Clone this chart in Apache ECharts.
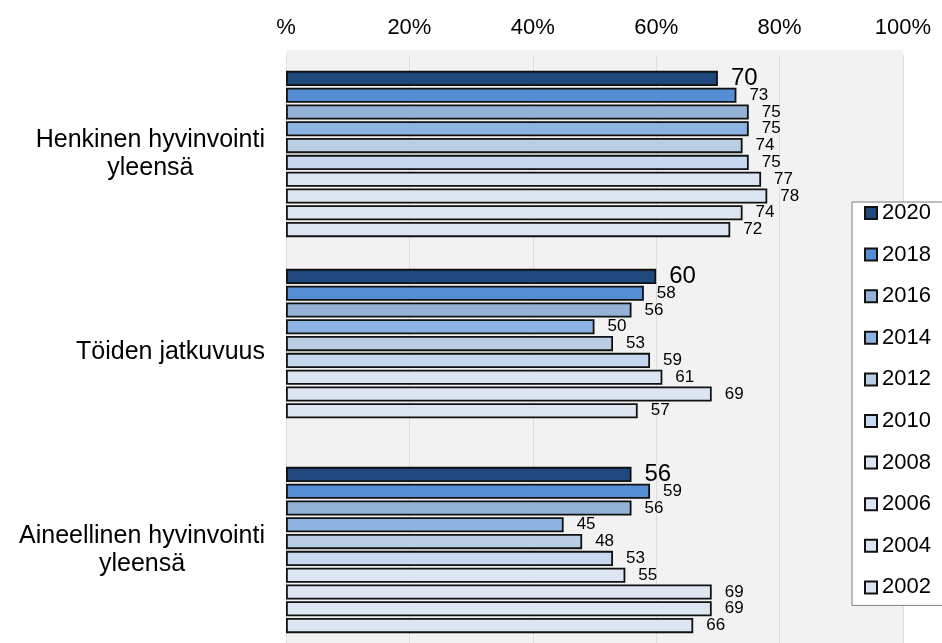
<!DOCTYPE html>
<html>
<head>
<meta charset="utf-8">
<script src="https://cdn.jsdelivr.net/npm/echarts@6/dist/echarts.min.js"></script>
<style>
html,body{margin:0;padding:0;background:#fff;}
#chart{width:942px;height:643px;}
</style>
</head>
<body>
<div id="chart"></div>
<script>
var categories = ['Henkinen hyvinvointi\nyleensä', 'Töiden jatkuvuus', 'Aineellinen hyvinvointi\nyleensä'];
var years = ['2020', '2018', '2016', '2014', '2012', '2010', '2008', '2006', '2004', '2002'];
var henkinen = [70, 73, 75, 75, 74, 75, 77, 78, 74, 72];
var toiden = [60, 58, 56, 50, 53, 59, 61, 69, 57, null];
var aineellinen = [56, 59, 56, 45, 48, 53, 55, 69, 69, 66];
var xTicks = ['%', '20%', '40%', '60%', '80%', '100%'];
var colors = ['#1F497D', '#558ED5', '#95B3D7', '#8EB4E3', '#B9CDE5', '#C6D9F1', '#DCE6F2', '#DCE6F2', '#DCE6F2', '#DCE6F2'];

var FONT = "'Liberation Sans', Arial, sans-serif";
var chart = echarts.init(document.getElementById('chart'));

var series = years.map(function (y, i) {
  return {
    name: y,
    type: 'bar',
    data: [henkinen[i], toiden[i], aineellinen[i]],
    barGap: '11%',
    barCategoryGap: '16%',
    itemStyle: { color: colors[i], borderColor: '#111', borderWidth: 1.8 },
    label: {
      show: true,
      position: 'right',
      distance: 13,
      color: '#000',
      fontFamily: FONT,
      fontSize: i === 0 ? 24 : 17
    },
    emphasis: { disabled: true }
  };
});

chart.setOption({
  animation: false,
  backgroundColor: '#fff',
  textStyle: { fontFamily: FONT },
  graphic: [{
    type: 'rect',
    z: -10,
    shape: { x: 286, y: 50, width: 617, height: 600 },
    style: { fill: '#F2F2F2' }
  }],
  grid: { left: 286, width: 617, top: 55, height: 594, containLabel: false, outerBoundsMode: 'none' },
  legend: {
    orient: 'vertical',
    left: 852,
    top: 202,
    data: years,
    icon: 'rect',
    itemWidth: 12,
    itemHeight: 12,
    itemGap: 19.6,
    padding: [0, 20, 7, 12],
    borderColor: '#7F7F7F',
    borderWidth: 1,
    backgroundColor: '#fff',
    textStyle: { fontFamily: FONT, fontSize: 22, color: '#000', lineHeight: 22 },
    selectedMode: false
  },
  xAxis: {
    type: 'value',
    position: 'top',
    min: 0,
    max: 100,
    interval: 20,
    axisLine: { show: false },
    axisTick: { show: false },
    axisLabel: {
      color: '#000',
      fontFamily: FONT,
      fontSize: 22,
      margin: 16,
      formatter: function (v) { return xTicks[Math.round(v / 20)]; }
    },
    splitLine: { show: true, lineStyle: { color: '#DDDDDD', width: 1 } }
  },
  yAxis: {
    type: 'category',
    inverse: true,
    data: categories,
    axisLine: { show: false },
    axisTick: { show: false },
    axisLabel: {
      color: '#000',
      fontFamily: FONT,
      fontSize: 25,
      lineHeight: 28,
      margin: 21,
      align: 'right',
      formatter: function (v) {
        return v.split('\n').map(function (l) { return '{c|' + l + '}'; }).join('\n');
      },
      rich: { c: { align: 'center', fontFamily: FONT, fontSize: 25, lineHeight: 28, color: '#000' } }
    }
  },
  series: series
});
</script>
</body>
</html>
